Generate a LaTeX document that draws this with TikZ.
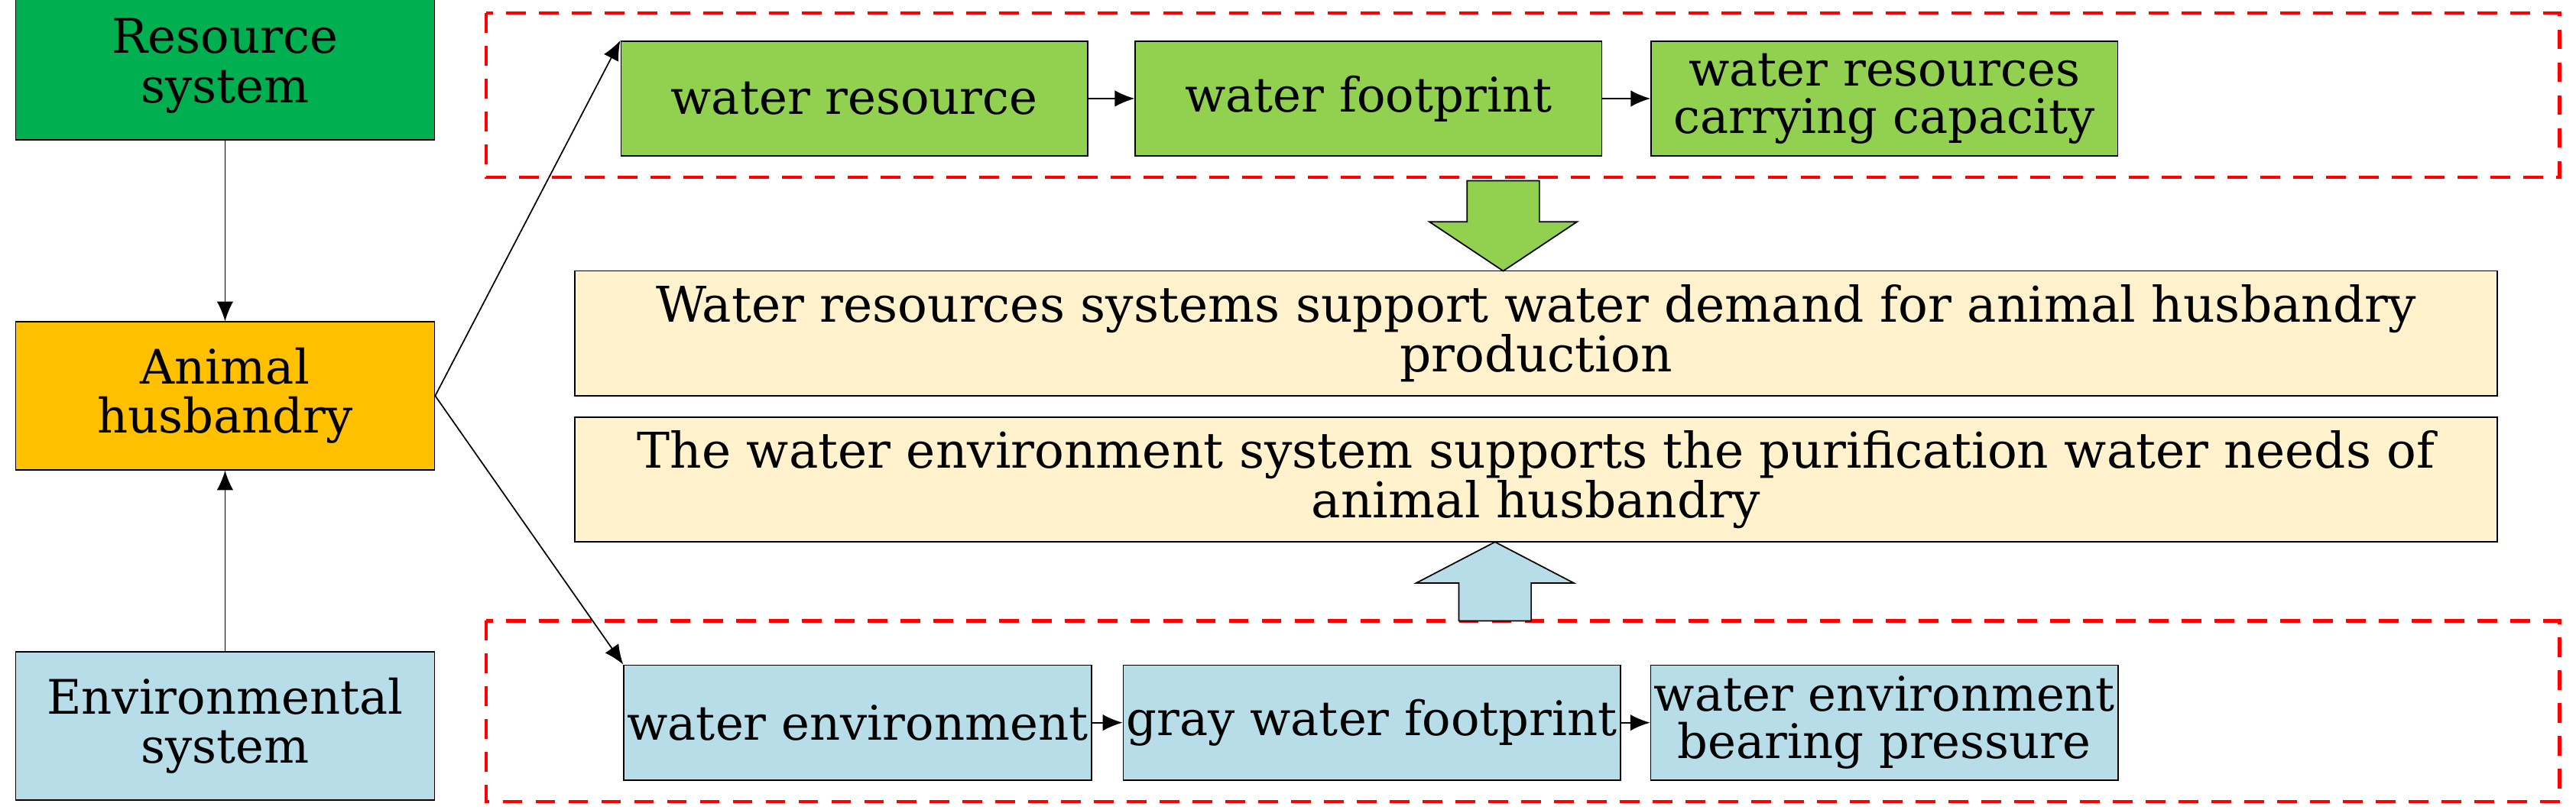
\documentclass[tikz,border=0pt]{standalone}
\usepackage{fontspec}
\setmainfont{DejaVu Serif}
\usetikzlibrary{arrows.meta}
\definecolor{resgreen}{RGB}{0,176,80}
\definecolor{lightgreen}{RGB}{146,208,80}
\definecolor{husorange}{RGB}{255,192,0}
\definecolor{envblue}{RGB}{183,222,232}
\definecolor{supyellow}{RGB}{255,242,204}
\tikzset{
  sysbox/.style={draw,minimum width=127.5pt,minimum height=45pt,align=center,font=\fontsize{14.5}{15}\selectfont},
  itembox/.style={draw,minimum width=142pt,minimum height=35pt,align=center,font=\fontsize{14.5}{14.5}\selectfont,inner sep=1pt},
  supbox/.style={draw,fill=supyellow,minimum width=585pt,minimum height=38pt,align=center,font=\fontsize{15}{15}\selectfont,inner sep=1pt},
  redframe/.style={draw=red,dashed,line width=1pt,dash pattern=on 6pt off 4pt},
  link/.style={-{Latex[length=6pt,width=5pt]}}
}
\begin{document}
\begin{tikzpicture}[x=0.5pt,y=-0.5pt]
  \useasboundingbox (0,0) rectangle (1568,493);
  % left column
  \node[sysbox,fill=resgreen] (res) at (137,40) {Resource\\system};
  \node[sysbox,fill=husorange] (hus) at (137,241) {Animal\\husbandry};
  \node[sysbox,fill=envblue] (env) at (137,442) {Environmental\\system};
  \draw[link] (res) -- (hus);
  \draw[link] (env) -- (hus);
  % frames
  \draw[redframe] (296,8) rectangle (1558,108);
  \draw[redframe] (296,378) rectangle (1558,488);
  % top row
  \node[itembox,fill=lightgreen] (wr) at (520,60) {water resource};
  \node[itembox,fill=lightgreen] (wf) at (833,60) {water footprint};
  \node[itembox,fill=lightgreen] (wc) at (1147,60) {water resources\\carrying capacity};
  \draw[link] (wr) -- (wf);
  \draw[link] (wf) -- (wc);
  % bottom row
  \node[itembox,fill=envblue] (we) at (522,440) {water environment};
  \node[itembox,fill=envblue] (gw) at (835,440) {gray water footprint};
  \node[itembox,fill=envblue] (wp) at (1147,440) {water environment\\bearing pressure};
  \draw[link] (we) -- (gw);
  \draw[link] (gw) -- (wp);
  % support boxes
  \node[supbox] (s1) at (935,203) {Water resources systems support water demand for animal husbandry\\production};
  \node[supbox] (s2) at (935,292) {The water environment system supports the purification water needs of\\animal husbandry};
  % block arrows
  \draw[fill=lightgreen] (893,110) -- (937,110) -- (937,135) -- (960,135) -- (915,165) -- (870,135) -- (893,135) -- cycle;
  \draw[fill=envblue] (888,378) -- (932,378) -- (932,355) -- (958,355) -- (910,330) -- (862,355) -- (888,355) -- cycle;
  % links from husbandry
  \draw[link] (hus.east) -- (wr.north west);
  \draw[link] (hus.east) -- (we.north west);
\end{tikzpicture}
\end{document}
